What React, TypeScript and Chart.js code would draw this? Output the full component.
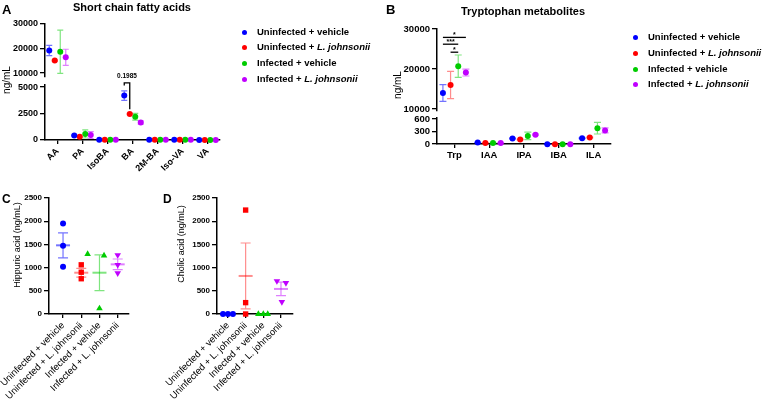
import React, { useEffect, useRef } from "react";
import { Chart, registerables } from "chart.js";

Chart.register(...registerables);

const CW = 762;
const CH = 400;
const FONT = "'Liberation Sans', Arial, Helvetica, sans-serif";

// ---------- shared groups ----------
const groupNames = [
  "Uninfected + vehicle",
  "Uninfected + L. johnsonii",
  "Infected + vehicle",
  "Infected + L. johnsonii",
];
const groupColors = ["#0000ff", "#ff0000", "#00cc00", "#c000ff"];
const groupBarColors = [
  "rgba(0,0,255,0.55)",
  "rgba(255,0,0,0.45)",
  "rgba(0,204,0,0.5)",
  "rgba(192,0,255,0.5)",
];
const seriesShift = [-0.33, -0.11, 0.11, 0.33];

// ---------- Panel A: short chain fatty acids (ng/mL) ----------
const scfaLabels = ["AA", "PA", "IsoBA", "BA", "2M-BA", "Iso-VA", "VA"];
const scfaUninfVeh = [19200, 420, 20, 4200, 30, 25, -10];
const scfaUninfVehSem = [2100, 40, 5, 450, 5, 5, 5];
const scfaUninfLj = [15100, 300, 15, 2450, 20, 20, -10];
const scfaUninfLjSem = [300, 30, 5, 60, 5, 5, 5];
const scfaInfVeh = [18700, 570, 15, 2200, 20, 20, -5];
const scfaInfVehSem = [8800, 380, 5, 320, 5, 5, 5];
const scfaInfLj = [16400, 470, 15, 1650, 15, 15, -10];
const scfaInfLjSem = [3300, 330, 5, 150, 5, 5, 5];
const scfaTopTicks = [10000, 20000, 30000];
const scfaBottomTicks = [0, 2500, 5000];
const scfaPValue = "0.1985";

// ---------- Panel B: tryptophan metabolites (ng/mL) ----------
const trpLabels = ["Trp", "IAA", "IPA", "IBA", "ILA"];
const trpUninfVeh = [14000, 35, 130, -5, 140];
const trpUninfVehSem = [2100, 5, 10, 5, 10];
const trpUninfLj = [16000, 25, 110, -5, 155];
const trpUninfLjSem = [3400, 5, 10, 5, 10];
const trpInfVeh = [20700, 25, 195, -5, 380];
const trpInfVehSem = [2800, 5, 90, 5, 140];
const trpInfLj = [19100, 25, 225, -5, 325];
const trpInfLjSem = [850, 5, 15, 5, 60];
const trpTopTicks = [10000, 20000, 30000];
const trpBottomTicks = [0, 300, 600];
const trpSigLevels = [27900, 26200, 24200];
const trpSigPairs = [
  [0, 3],
  [0, 2],
  [1, 2],
];
const trpSigStars = ["*", "***", "*"];

// ---------- Panel C: hippuric acid (ng/mL) ----------
const hippuricUninfVeh = [1950, 1470, 1020];
const hippuricUninfLj = [1060, 900, 760];
const hippuricInfVeh = [1290, 1260, 120];
const hippuricInfLj = [1270, 1060, 880];
const hippuricMean = [1480, 890, 890, 1070];
const hippuricSem = [270, 95, 385, 115];
const hippuricJitter = [
  [0, 0, 0],
  [0, 0, 0],
  [-0.65, 0.25, 0],
  [0, 0, 0],
];

// ---------- Panel D: cholic acid (ng/mL) ----------
const cholicUninfVeh = [0, 0, 0];
const cholicUninfLj = [2240, 245, 0];
const cholicInfVeh = [0, 0, 0];
const cholicInfLj = [710, 670, 260];
const cholicMean = [0, 820, 0, 540];
const cholicSem = [0, 710, 0, 145];
const cholicJitter = [
  [-0.28, 0, 0.28],
  [0, 0, 0],
  [-0.28, 0, 0.25],
  [-0.23, 0.28, 0.05],
];
const acidTicks = [0, 500, 1000, 1500, 2000, 2500];

const markerStyles = ["circle", "rect", "triangle", "triangle"];
const markerRotation = [0, 0, 0, 180];
const markerRadius = [3, 3.8, 3.8, 3.8];

// ---------- helpers ----------
function makeErrorBarPlugin(margins: [number, number]) {
  return {
    id: "errorBars",
    beforeDatasetsDraw(chart: any) {
      const { ctx, chartArea: a, scales } = chart;
      const xs = scales.x;
      const ys = scales.y;
      ctx.save();
      ctx.beginPath();
      ctx.rect(a.left - 20, a.top - margins[0], a.right - a.left + 40, a.bottom - a.top + margins[0] + margins[1]);
      ctx.clip();
      chart.data.datasets.forEach((ds: any) => {
        (ds.errorBars || []).forEach((e: any) => {
          const px = xs.getPixelForValue(e.x);
          const pLo = ys.getPixelForValue(e.lo);
          const pHi = ys.getPixelForValue(e.hi);
          ctx.strokeStyle = e.color;
          ctx.lineWidth = 1.2;
          ctx.beginPath();
          ctx.moveTo(px, pLo);
          ctx.lineTo(px, pHi);
          ctx.moveTo(px - e.cap, pLo);
          ctx.lineTo(px + e.cap, pLo);
          ctx.moveTo(px - e.cap, pHi);
          ctx.lineTo(px + e.cap, pHi);
          ctx.stroke();
          if (e.mean !== undefined) {
            const pm = ys.getPixelForValue(e.mean);
            ctx.lineWidth = 2;
            ctx.beginPath();
            ctx.moveTo(px - e.meanHalf, pm);
            ctx.lineTo(px + e.meanHalf, pm);
            ctx.stroke();
          }
        });
      });
      ctx.restore();
    },
  };
}

type SegSpec = {
  area: [number, number, number, number];
  xRange: [number, number];
  yRange: [number, number];
  xTicks: number[] | null;
  xLabels: string[];
  xRotation: number;
  xFont: any;
  yTicks: number[];
  yFont: any;
  yAxisWidth: number;
  xAxisHeight: number;
  datasets: any[];
  barMargins: [number, number];
  annotate?: (chart: any) => void;
};

function Seg({ spec }: { spec: SegSpec }) {
  const ref = useRef<HTMLCanvasElement>(null);
  useEffect(() => {
    const [l, t, r, b] = spec.area;
    const showX = spec.xTicks !== null;
    const xH = showX ? spec.xAxisHeight : 0;
    const annot = {
      id: "annot",
      afterDraw(chart: any) {
        if (spec.annotate) spec.annotate(chart);
      },
    };
    const chart = new Chart(ref.current as HTMLCanvasElement, {
      type: "scatter",
      data: { datasets: spec.datasets },
      options: {
        responsive: false,
        animation: false,
        events: [],
        layout: {
          padding: { left: l - spec.yAxisWidth, top: t, right: CW - r, bottom: CH - b - xH },
        },
        plugins: { legend: { display: false }, tooltip: { enabled: false }, title: { display: false } },
        scales: {
          x: {
            type: "linear",
            min: spec.xRange[0],
            max: spec.xRange[1],
            display: showX,
            afterBuildTicks: (s: any) => {
              s.ticks = (spec.xTicks || []).map((v) => ({ value: v }));
            },
            afterFit: (s: any) => {
              s.height = xH;
              s.paddingLeft = 0;
              s.paddingRight = 0;
              s.paddingTop = 0;
              s.paddingBottom = 0;
            },
            grid: { display: true, drawOnChartArea: false, drawTicks: true, tickLength: 4, color: "#000", lineWidth: 1.3 },
            border: { display: true, color: "#000", width: 1.5 },
            ticks: {
              autoSkip: false,
              minRotation: spec.xRotation,
              maxRotation: spec.xRotation,
              padding: 2,
              color: "#000",
              font: spec.xFont,
              callback: (_v: any, i: number) => spec.xLabels[i],
            },
          },
          y: {
            type: "linear",
            min: spec.yRange[0],
            max: spec.yRange[1],
            afterBuildTicks: (s: any) => {
              s.ticks = spec.yTicks.map((v) => ({ value: v }));
            },
            afterFit: (s: any) => {
              s.width = spec.yAxisWidth;
              s.paddingLeft = 0;
              s.paddingRight = 0;
              s.paddingTop = 0;
              s.paddingBottom = 0;
            },
            grid: { display: true, drawOnChartArea: false, drawTicks: true, tickLength: 5, color: "#000", lineWidth: 1.3 },
            border: { display: true, color: "#000", width: 1.5 },
            ticks: {
              autoSkip: false,
              padding: 2,
              color: "#000",
              font: spec.yFont,
              callback: (v: any) => String(v),
            },
          },
        },
      },
      plugins: [makeErrorBarPlugin(spec.barMargins), annot],
    } as any);
    return () => chart.destroy();
  }, []);
  return (
    <canvas
      ref={ref}
      width={CW}
      height={CH}
      style={{ position: "absolute", left: 0, top: 0, width: CW, height: CH }}
    />
  );
}

function groupedDatasets(series: number[][], sems: number[][], cap: number, clip: any) {
  return series.map((vals, s) => ({
    data: vals.map((v, i) => ({ x: i + seriesShift[s], y: v })),
    showLine: false,
    pointRadius: 3,
    pointStyle: "circle",
    pointBackgroundColor: groupColors[s],
    pointBorderColor: groupColors[s],
    pointBorderWidth: 0,
    clip,
    errorBars: vals.map((v, i) => ({
      x: i + seriesShift[s],
      lo: v - sems[s][i],
      hi: v + sems[s][i],
      color: groupBarColors[s],
      cap,
    })),
  }));
}

function scatterDatasets(groups: number[][], jitter: number[][], mean: number[], sem: number[]) {
  return groups.map((vals, g) => ({
    data: vals.map((v, k) => ({ x: g + jitter[g][k], y: v })),
    showLine: false,
    pointStyle: markerStyles[g],
    pointRotation: markerRotation[g],
    pointRadius: markerRadius[g],
    pointBackgroundColor: groupColors[g],
    pointBorderColor: groupColors[g],
    pointBorderWidth: 0,
    clip: false,
    errorBars: [
      {
        x: g,
        lo: mean[g] - sem[g],
        hi: mean[g] + sem[g],
        mean: mean[g],
        color: groupBarColors[g],
        cap: 5,
        meanHalf: 7,
      },
    ],
  }));
}

const fontA = { family: FONT, size: 9, weight: "bold" };
const fontB = { family: FONT, size: 9.5, weight: "bold" };
const fontCY = { family: FONT, size: 8, weight: "bold" };
const fontCX = { family: FONT, size: 9.5, weight: "normal" };

const scfaSeries = [scfaUninfVeh, scfaUninfLj, scfaInfVeh, scfaInfLj];
const scfaSems = [scfaUninfVehSem, scfaUninfLjSem, scfaInfVehSem, scfaInfLjSem];
const trpSeries = [trpUninfVeh, trpUninfLj, trpInfVeh, trpInfLj];
const trpSems = [trpUninfVehSem, trpUninfLjSem, trpInfVehSem, trpInfLjSem];
const scfaIdx = scfaLabels.map((_, i) => i);
const trpIdx = trpLabels.map((_, i) => i);
const groupIdx = groupNames.map((_, i) => i);

const specATop: SegSpec = {
  area: [45, 24, 220, 77],
  xRange: [-0.5, scfaLabels.length - 0.5],
  yRange: [8400, 30000],
  xTicks: null,
  xLabels: scfaLabels,
  xRotation: 45,
  xFont: fontA,
  yTicks: scfaTopTicks,
  yFont: fontA,
  yAxisWidth: 40,
  xAxisHeight: 0,
  datasets: groupedDatasets(scfaSeries, scfaSems, 3, { left: 10, right: 10, top: 10, bottom: 3 }),
  barMargins: [4, 0],
};

const specABottom: SegSpec = {
  area: [45, 85, 220, 140],
  xRange: [-0.5, scfaLabels.length - 0.5],
  yRange: [0, 5200],
  xTicks: scfaIdx,
  xLabels: scfaLabels,
  xRotation: 45,
  xFont: fontA,
  yTicks: scfaBottomTicks,
  yFont: fontA,
  yAxisWidth: 40,
  xAxisHeight: 45,
  datasets: groupedDatasets(scfaSeries, scfaSems, 3, { left: 10, right: 10, top: 3, bottom: 10 }),
  barMargins: [0, 4],
  annotate: (chart: any) => {
    const { ctx, scales } = chart;
    const ba = scfaLabels.indexOf("BA");
    const x1 = scales.x.getPixelForValue(ba + seriesShift[0]);
    const x2 = scales.x.getPixelForValue(ba + seriesShift[1]);
    const yTop = scales.y.getPixelForValue(5400);
    const yL = scales.y.getPixelForValue(5150);
    const yR = scales.y.getPixelForValue(2900);
    ctx.save();
    ctx.strokeStyle = "#000";
    ctx.lineWidth = 1.3;
    ctx.beginPath();
    ctx.moveTo(x1, yL);
    ctx.lineTo(x1, yTop);
    ctx.lineTo(x2, yTop);
    ctx.lineTo(x2, yR);
    ctx.stroke();
    ctx.fillStyle = "#000";
    ctx.font = `bold 6.5px ${FONT}`;
    ctx.textAlign = "center";
    ctx.textBaseline = "bottom";
    ctx.fillText(scfaPValue, (x1 + x2) / 2, yTop - 3);
    ctx.restore();
  },
};

const specBTop: SegSpec = {
  area: [437, 29, 611, 111],
  xRange: [-0.5, trpLabels.length - 0.5],
  yRange: [9500, 30000],
  xTicks: null,
  xLabels: trpLabels,
  xRotation: 0,
  xFont: fontB,
  yTicks: trpTopTicks,
  yFont: fontB,
  yAxisWidth: 40,
  xAxisHeight: 0,
  datasets: groupedDatasets(trpSeries, trpSems, 3.5, { left: 10, right: 10, top: 10, bottom: 3 }),
  barMargins: [4, 0],
  annotate: (chart: any) => {
    const { ctx, scales } = chart;
    ctx.save();
    ctx.strokeStyle = "#000";
    ctx.fillStyle = "#000";
    ctx.lineWidth = 1.3;
    ctx.font = `bold 7px ${FONT}`;
    ctx.textAlign = "center";
    ctx.textBaseline = "bottom";
    trpSigPairs.forEach((pair, k) => {
      const xa = scales.x.getPixelForValue(seriesShift[pair[0]]);
      const xb = scales.x.getPixelForValue(seriesShift[pair[1]]);
      const y = scales.y.getPixelForValue(trpSigLevels[k]);
      ctx.beginPath();
      ctx.moveTo(xa, y);
      ctx.lineTo(xb, y);
      ctx.stroke();
      ctx.fillText(trpSigStars[k], (xa + xb) / 2, y + 1);
    });
    ctx.restore();
  },
};

const specBBottom: SegSpec = {
  area: [437, 118, 611, 144],
  xRange: [-0.5, trpLabels.length - 0.5],
  yRange: [0, 624],
  xTicks: trpIdx,
  xLabels: trpLabels,
  xRotation: 0,
  xFont: fontB,
  yTicks: trpBottomTicks,
  yFont: fontB,
  yAxisWidth: 40,
  xAxisHeight: 20,
  datasets: groupedDatasets(trpSeries, trpSems, 3.5, { left: 10, right: 10, top: 3, bottom: 10 }),
  barMargins: [0, 4],
};

const specC: SegSpec = {
  area: [49, 198, 129, 314],
  xRange: [-0.77, 3.62],
  yRange: [0, 2500],
  xTicks: groupIdx,
  xLabels: groupNames,
  xRotation: 45,
  xFont: fontCX,
  yTicks: acidTicks,
  yFont: fontCY,
  yAxisWidth: 40,
  xAxisHeight: 85,
  datasets: scatterDatasets(
    [hippuricUninfVeh, hippuricUninfLj, hippuricInfVeh, hippuricInfLj],
    hippuricJitter,
    hippuricMean,
    hippuricSem
  ),
  barMargins: [6, 6],
};

const specD: SegSpec = {
  area: [217, 198, 293, 314],
  xRange: [-0.62, 3.68],
  yRange: [0, 2500],
  xTicks: groupIdx,
  xLabels: groupNames,
  xRotation: 45,
  xFont: fontCX,
  yTicks: acidTicks,
  yFont: fontCY,
  yAxisWidth: 40,
  xAxisHeight: 85,
  datasets: scatterDatasets(
    [cholicUninfVeh, cholicUninfLj, cholicInfVeh, cholicInfLj],
    cholicJitter,
    cholicMean,
    cholicSem
  ),
  barMargins: [6, 6],
};

// ---------- HTML text ----------
function Txt({
  x,
  y,
  size,
  bold,
  children,
  center,
  rotate,
}: {
  x: number;
  y: number;
  size: number;
  bold?: boolean;
  children: any;
  center?: boolean;
  rotate?: boolean;
}) {
  const tf = rotate ? "translate(-50%,-50%) rotate(-90deg)" : center ? "translate(-50%,-50%)" : "translate(0,-50%)";
  return (
    <div
      style={{
        position: "absolute",
        left: x,
        top: y,
        transform: tf,
        fontSize: size,
        lineHeight: `${size + 2}px`,
        fontWeight: bold ? "bold" : "normal",
        whiteSpace: "nowrap",
        color: "#000",
        fontFamily: FONT,
      }}
    >
      {children}
    </div>
  );
}

function GroupName({ name }: { name: string }) {
  const key = "L. johnsonii";
  const i = name.indexOf(key);
  if (i < 0) return <>{name}</>;
  return (
    <>
      {name.slice(0, i)}
      <i>{key}</i>
    </>
  );
}

function Legend({ dotX, ys, textX }: { dotX: number; ys: number[]; textX: number }) {
  return (
    <>
      {groupNames.map((n, i) => (
        <React.Fragment key={n}>
          <div
            style={{
              position: "absolute",
              left: dotX - 2.5,
              top: ys[i] - 2.5,
              width: 5,
              height: 5,
              borderRadius: "50%",
              background: groupColors[i],
            }}
          />
          <Txt x={textX} y={ys[i]} size={9.5} bold>
            <GroupName name={n} />
          </Txt>
        </React.Fragment>
      ))}
    </>
  );
}

export default function App() {
  return (
    <div
      style={{
        position: "absolute",
        left: 0,
        top: 0,
        width: CW,
        height: CH,
        background: "#fff",
        overflow: "hidden",
        fontFamily: FONT,
      }}
    >
      <Seg spec={specATop} />
      <Seg spec={specABottom} />
      <Seg spec={specBTop} />
      <Seg spec={specBBottom} />
      <Seg spec={specC} />
      <Seg spec={specD} />

      <Txt x={2} y={9} size={13} bold>
        A
      </Txt>
      <Txt x={132} y={7} size={11} bold center>
        Short chain fatty acids
      </Txt>
      <Txt x={7} y={80} size={10} rotate>
        ng/mL
      </Txt>
      <Legend dotX={244} ys={[32, 47, 63, 79]} textX={257} />

      <Txt x={386} y={9} size={13} bold>
        B
      </Txt>
      <Txt x={523} y={11} size={11} bold center>
        Tryptophan metabolites
      </Txt>
      <Txt x={398} y={85} size={10} rotate>
        ng/mL
      </Txt>
      <Legend dotX={635} ys={[37, 53, 69, 84]} textX={648} />

      <Txt x={2} y={199} size={12} bold>
        C
      </Txt>
      <Txt x={17} y={245} size={9} rotate>
        Hippuric acid (ng/mL)
      </Txt>

      <Txt x={163} y={199} size={12} bold>
        D
      </Txt>
      <Txt x={181} y={244} size={9} rotate>
        Cholic acid (ng/mL)
      </Txt>
    </div>
  );
}
